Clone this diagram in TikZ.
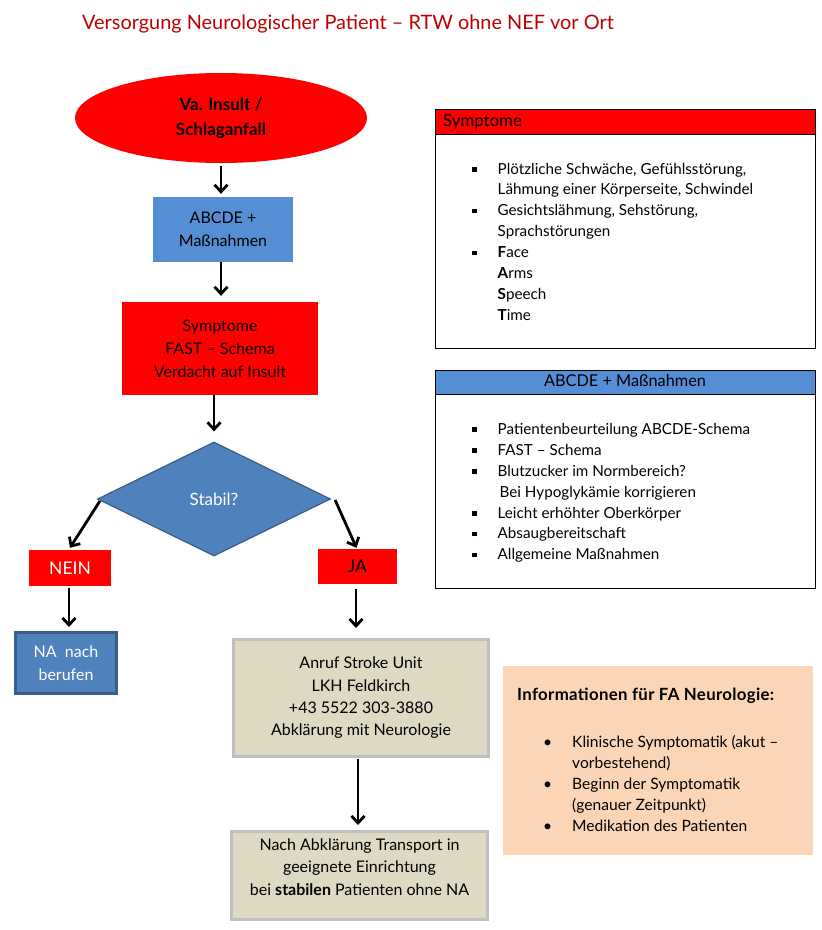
\documentclass[tikz,border=0pt]{standalone}
\usepackage{fontspec}
\setmainfont{Lato}
\usetikzlibrary{shapes.geometric,arrows.meta}
\definecolor{titlered}{HTML}{C00000}
\definecolor{bred}{HTML}{FF0000}
\definecolor{bblue}{HTML}{558ED5}
\definecolor{dfill}{HTML}{4F81BD}
\definecolor{dborder}{HTML}{385D8A}
\definecolor{tan}{HTML}{DDD9C3}
\definecolor{tanborder}{HTML}{BFBFBF}
\definecolor{peach}{HTML}{FBD5B5}
\newcommand\sqbul{\rule[2.5pt]{4.5pt}{4.5pt}}
\begin{document}
\begin{tikzpicture}[x=1pt,y=-1pt,
  flowtxt/.style={font=\fontsize{16}{23}\selectfont, align=center, inner sep=0pt},
  listtxt/.style={font=\fontsize{15.2}{20.9}\selectfont, inner sep=0pt},
  boxshape/.style={rectangle, inner sep=0pt, flowtxt},
  arr/.style={draw=black, line width=2.8pt, -{Straight Barb[length=7pt,width=13pt]}},
  panel/.style={rectangle, draw=black, line width=1pt, inner sep=0pt, minimum width=380pt},
]
\useasboundingbox (0,0) rectangle (822,930);
\fill[white] (0,0) rectangle (822,930);

% title
\node[font=\fontsize{19.9}{23}\selectfont, text=titlered, inner sep=0pt] (title) at (348,24) {Versorgung Neurologischer Patient -- RTW ohne NEF vor Ort};

% flow nodes
\node[ellipse, fill=bred, minimum width=292pt, minimum height=90pt, inner sep=0pt,
      font=\fontsize{17}{25}\selectfont\bfseries, align=center] (ell) at (221,118) {Va. Insult /\\Schlaganfall};
\node[boxshape, fill=bblue, minimum width=140pt, minimum height=65pt] (abc) at (223,229.5) {ABCDE +\\Maßnahmen};
\node[boxshape, fill=bred, minimum width=196pt, minimum height=93pt] (sym) at (220,348.5) {Symptome\\FAST -- Schema\\Verdacht auf Insult};
\node[diamond, fill=dfill, draw=dborder, line width=1.2pt, minimum width=233pt, minimum height=114pt,
      inner sep=0pt, font=\fontsize{17}{23}\selectfont, text=white] (dia) at (214,499) {Stabil?};
\node[boxshape, fill=bred, text=white, minimum width=82pt, minimum height=36pt, font=\fontsize{17.5}{23}\selectfont] (nein) at (70,568) {NEIN};
\node[boxshape, fill=bred, minimum width=79pt, minimum height=35pt, font=\fontsize{17.5}{23}\selectfont] (ja) at (357.5,566.5) {JA};
\node[boxshape, fill=dfill, draw=dborder, line width=3pt, text=white, minimum width=101pt, minimum height=61pt] (na) at (66,663) {NA\ \ nach\\berufen};
\node[boxshape, fill=tan, draw=tanborder, line width=3pt, minimum width=255pt, minimum height=117pt,
      font=\fontsize{16}{22.3}\selectfont] (anruf) at (361,698) {Anruf Stroke Unit\\LKH Feldkirch\\+43 5522 303-3880\\Abklärung mit Neurologie};
\node[boxshape, fill=tan, draw=tanborder, line width=3pt, minimum width=256pt, minimum height=88pt,
      font=\fontsize{16}{22.5}\selectfont] (nach) at (359.5,875.5) {Nach Abklärung Transport in\\geeignete Einrichtung\\bei \textbf{stabilen} Patienten ohne NA\\[-5pt]\mbox{}};

% connectors
\draw[arr] ([yshift=-3pt]ell.south) -- ([yshift=3pt]ell.south |- abc.north);
\draw[arr] ([xshift=-2pt]abc.south) -- ([xshift=-2pt,yshift=6pt]abc.south |- sym.north);
\draw[arr] ([yshift=0pt]sym.south -| dia.north) -- ([yshift=10pt]dia.north);
\draw[arr] ([shift={(3pt,-2pt)}]dia.west) -- ([yshift=2pt]nein.north);
\draw[arr] ([shift={(4pt,-1pt)}]dia.east) -- ([shift={(-1pt,1pt)}]ja.north);
\draw[arr] ([xshift=-1pt,yshift=-2pt]nein.south) -- ([xshift=-1pt,yshift=4pt]nein.south |- na.north);
\draw[arr] ([xshift=-1.5pt,yshift=-5pt]ja.south) -- ([xshift=-1.5pt,yshift=10pt]ja.south |- anruf.north);
\draw[arr] ([xshift=-3pt,yshift=-1pt]anruf.south) -- ([xshift=-3pt,yshift=5pt]anruf.south |- nach.north);

% Symptome panel
\node[panel, minimum height=239pt] (sympanel) at (625,228.5) {};
\node[rectangle, fill=bred, draw=black, line width=1pt, minimum width=380pt, minimum height=25pt, inner sep=0pt] (symhead) at (625,121.5) {};
\node[anchor=west, inner sep=0pt, font=\fontsize{16.8}{18}\selectfont] (symheadtxt) at (443,122) {Symptome};
\node[listtxt, anchor=west] (symlist) at (472,243) {%
\begin{tabular}{@{}p{25.5pt}@{}l@{}}
\sqbul & Plötzliche Schwäche, Gefühlsstörung,\\
 & Lähmung einer Körperseite, Schwindel\\
\sqbul & Gesichtslähmung, Sehstörung,\\
 & Sprachstörungen\\
\sqbul & \textbf{F}ace\\
 & \textbf{A}rms\\
 & \textbf{S}peech\\
 & \textbf{T}ime
\end{tabular}};

% ABCDE panel
\node[panel, minimum height=218pt] (abcpanel) at (625,479) {};
\node[rectangle, fill=bblue, draw=black, line width=1pt, minimum width=380pt, minimum height=24pt, inner sep=0pt] (abchead) at (625,382) {};
\node[inner sep=0pt, font=\fontsize{16.3}{18}\selectfont] (abcheadtxt) at (625,381) {ABCDE + Maßnahmen};
\node[listtxt, anchor=west] (abclist) at (472,493) {%
\begin{tabular}{@{}p{25.5pt}@{}l@{}}
\sqbul & Patientenbeurteilung ABCDE-Schema\\
\sqbul & FAST -- Schema\\
\sqbul & Blutzucker im Normbereich?\\
 & \hspace{2pt}Bei Hypoglykämie korrigieren\\
\sqbul & Leicht erhöhter Oberkörper\\
\sqbul & Absaugbereitschaft\\
\sqbul & Allgemeine Maßnahmen
\end{tabular}};

% Info panel
\node[rectangle, fill=peach, minimum width=310pt, minimum height=189pt, inner sep=0pt] (info) at (658,760.5) {};
\node[anchor=west, inner sep=0pt, font=\fontsize{16.8}{18}\selectfont\bfseries\addfontfeatures{LetterSpace=2}] (infohead) at (517,696) {Informationen für FA Neurologie:};
\node[font=\fontsize{15.6}{20.9}\selectfont, inner sep=0pt, anchor=west] (infolist) at (543,785.5) {%
\begin{tabular}{@{}p{29pt}@{}l@{}}
\textbullet & Klinische Symptomatik (akut --\\
 & vorbestehend)\\
\textbullet & Beginn der Symptomatik\\
 & (genauer Zeitpunkt)\\
\textbullet & Medikation des Patienten
\end{tabular}};
\end{tikzpicture}
\end{document}
